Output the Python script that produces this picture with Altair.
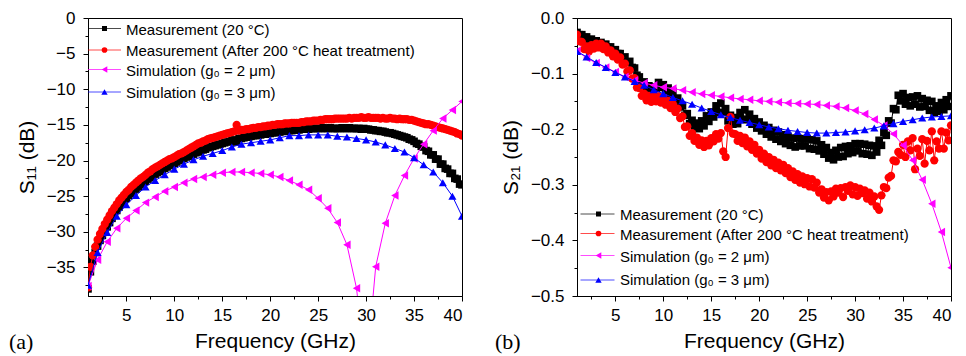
import altair as alt
import pandas as pd

# ---------------- data ----------------
FREQ_MEAS = [round(1.0 + 0.25 * i, 2) for i in range(157)]   # 1.00 ... 40.00 GHz
FREQ_SIM = [float(f) for f in range(1, 41)]                    # 1 ... 40 GHz

# (a) S11 (dB)
S11_MEAS_20C = [
    -38.0, -35.6, -34.1, -32.9, -32.0, -31.2, -30.5, -29.9,
    -29.3, -28.7, -28.1, -27.5, -27.0, -26.5, -26.1, -25.7,
    -25.3, -24.9, -24.6, -24.3, -24.0, -23.7, -23.4, -23.2,
    -22.9, -22.6, -22.4, -22.1, -21.9, -21.7, -21.5, -21.3,
    -21.1, -20.9, -20.7, -20.6, -20.4, -20.2, -20.0, -19.9,
    -19.7, -19.5, -19.4, -19.2, -19.1, -18.9, -18.8, -18.6,
    -18.5, -18.4, -18.2, -18.1, -18.0, -17.9, -17.8, -17.7,
    -17.6, -17.5, -17.4, -17.3, -17.2, -17.1, -17.4, -16.9,
    -16.9, -16.8, -16.7, -16.7, -16.6, -16.5, -16.5, -16.4,
    -16.4, -16.3, -16.3, -16.2, -16.2, -16.1, -16.1, -16.0,
    -16.0, -15.9, -15.9, -15.8, -15.8, -15.8, -15.7, -15.7,
    -15.7, -15.6, -15.6, -15.6, -15.6, -15.5, -15.5, -15.5,
    -15.5, -15.5, -15.4, -15.5, -15.5, -15.4, -15.5, -15.5,
    -15.5, -15.5, -15.4, -15.5, -15.5, -15.4, -15.5, -15.5,
    -15.5, -15.5, -15.6, -15.5, -15.6, -15.6, -15.7, -15.7,
    -15.8, -15.8, -15.9, -15.9, -16.0, -16.1, -16.1, -16.2,
    -16.3, -16.4, -16.5, -16.6, -16.7, -16.8, -17.0, -17.1,
    -17.3, -17.6, -17.7, -18.0, -18.1, -18.6, -18.7, -19.2,
    -19.2, -19.8, -19.8, -20.5, -20.5, -21.1, -21.2, -21.8,
    -21.8, -22.5, -22.6, -23.3, -23.4,
]
S11_MEAS_200C = [
    -37.8, -34.9, -33.3, -32.1, -31.1, -30.3, -29.6, -28.9,
    -28.3, -27.7, -27.1, -26.6, -26.1, -25.6, -25.2, -24.8,
    -24.4, -24.1, -23.7, -23.4, -23.1, -22.8, -22.5, -22.3,
    -22.0, -21.7, -21.5, -21.2, -21.0, -20.8, -20.6, -20.4,
    -20.2, -20.0, -19.8, -19.7, -19.5, -19.3, -19.1, -19.0,
    -18.8, -18.6, -18.4, -18.2, -18.0, -17.8, -17.6, -17.5,
    -17.3, -17.2, -17.0, -16.9, -16.8, -16.7, -16.6, -16.5,
    -16.4, -16.3, -16.2, -16.1, -16.0, -15.9, -15.0, -15.8,
    -15.7, -15.7, -15.6, -15.6, -15.5, -15.4, -15.4, -15.3,
    -15.3, -15.2, -15.2, -15.1, -15.1, -15.0, -15.0, -14.9,
    -14.9, -14.9, -14.8, -14.8, -14.8, -14.7, -14.7, -14.7,
    -14.7, -14.6, -14.6, -14.5, -14.5, -14.5, -14.4, -14.4,
    -14.4, -14.3, -14.3, -14.2, -14.2, -14.2, -14.2, -14.1,
    -14.1, -14.1, -14.1, -14.1, -14.1, -14.0, -14.1, -14.0,
    -14.0, -14.0, -13.9, -14.0, -14.0, -13.9, -14.0, -14.0,
    -14.0, -14.0, -14.1, -14.0, -14.1, -14.1, -14.0, -14.1,
    -14.1, -14.2, -14.1, -14.2, -14.2, -14.2, -14.3, -14.3,
    -14.4, -14.5, -14.6, -14.7, -14.8, -14.9, -14.9, -15.0,
    -15.1, -15.2, -15.3, -15.4, -15.5, -15.6, -15.7, -15.8,
    -15.9, -16.0, -16.2, -16.3, -16.5,
]
S11_SIM_G2 = [
    -37.6, -33.9, -31.4, -29.5, -28.1, -27.0, -25.9, -25.1, -24.3, -23.7,
    -23.1, -22.6, -22.3, -22.0, -21.7, -21.6, -21.6, -21.7, -21.8, -22.0,
    -22.3, -22.8, -23.4, -24.1, -25.3, -26.7, -28.7, -31.8, -37.9, -50.0,
    -34.9, -28.8, -24.9, -22.1, -19.7, -17.7, -15.8, -14.1, -12.9, -11.7,
]
S11_SIM_G3 = [
    -37.5, -32.9, -30.1, -27.8, -26.2, -24.9, -23.7, -22.8, -22.0, -21.2,
    -20.5, -19.9, -19.4, -19.0, -18.6, -18.1, -17.7, -17.5, -17.3, -17.1,
    -16.8, -16.5, -16.5, -16.4, -16.4, -16.4, -16.6, -16.7, -16.9, -17.1,
    -17.4, -17.8, -18.3, -18.8, -19.6, -20.6, -21.6, -23.1, -25.0, -27.8,
]

# (b) S21 (dB)
S21_MEAS_20C = [
    -0.026, -0.030, -0.030, -0.035, -0.034, -0.039, -0.038, -0.042,
    -0.041, -0.045, -0.044, -0.049, -0.047, -0.053, -0.052, -0.058,
    -0.057, -0.064, -0.064, -0.072, -0.070, -0.079, -0.078, -0.089,
    -0.090, -0.103, -0.106, -0.116, -0.115, -0.126, -0.122, -0.131,
    -0.124, -0.127, -0.116, -0.125, -0.120, -0.131, -0.126, -0.138,
    -0.132, -0.147, -0.144, -0.160, -0.158, -0.175, -0.172, -0.190,
    -0.184, -0.198, -0.189, -0.199, -0.185, -0.194, -0.176, -0.186,
    -0.169, -0.178, -0.158, -0.170, -0.153, -0.170, -0.163, -0.185,
    -0.175, -0.191, -0.179, -0.190, -0.170, -0.182, -0.165, -0.183,
    -0.173, -0.191, -0.181, -0.198, -0.187, -0.203, -0.193, -0.209,
    -0.197, -0.214, -0.202, -0.218, -0.205, -0.222, -0.210, -0.226,
    -0.213, -0.229, -0.216, -0.232, -0.216, -0.230, -0.217, -0.230,
    -0.217, -0.235, -0.219, -0.236, -0.221, -0.239, -0.228, -0.245,
    -0.233, -0.252, -0.242, -0.255, -0.238, -0.250, -0.233, -0.249,
    -0.231, -0.244, -0.230, -0.242, -0.226, -0.239, -0.226, -0.244,
    -0.227, -0.245, -0.229, -0.247, -0.230, -0.241, -0.220, -0.229,
    -0.206, -0.211, -0.185, -0.189, -0.163, -0.165, -0.139, -0.149,
    -0.136, -0.155, -0.143, -0.158, -0.142, -0.155, -0.140, -0.160,
    -0.145, -0.159, -0.148, -0.166, -0.150, -0.170, -0.158, -0.168,
    -0.152, -0.165, -0.147, -0.159, -0.140,
]
S21_MEAS_200C = [
    -0.030, -0.042, -0.043, -0.056, -0.051, -0.060, -0.049, -0.055,
    -0.046, -0.053, -0.046, -0.056, -0.051, -0.062, -0.058, -0.069,
    -0.064, -0.075, -0.071, -0.084, -0.082, -0.096, -0.094, -0.109,
    -0.108, -0.125, -0.126, -0.140, -0.136, -0.148, -0.140, -0.151,
    -0.141, -0.150, -0.141, -0.152, -0.143, -0.156, -0.149, -0.162,
    -0.155, -0.169, -0.163, -0.180, -0.177, -0.196, -0.195, -0.212,
    -0.207, -0.221, -0.215, -0.228, -0.220, -0.232, -0.221, -0.229,
    -0.216, -0.222, -0.209, -0.217, -0.207, -0.240, -0.250, -0.198,
    -0.178, -0.208, -0.209, -0.221, -0.212, -0.225, -0.215, -0.231,
    -0.222, -0.237, -0.228, -0.244, -0.237, -0.253, -0.244, -0.259,
    -0.250, -0.265, -0.255, -0.270, -0.260, -0.274, -0.264, -0.279,
    -0.270, -0.286, -0.276, -0.291, -0.281, -0.296, -0.285, -0.299,
    -0.288, -0.303, -0.290, -0.305, -0.296, -0.314, -0.308, -0.323,
    -0.313, -0.328, -0.312, -0.321, -0.307, -0.314, -0.306, -0.322,
    -0.304, -0.311, -0.301, -0.317, -0.304, -0.320, -0.307, -0.315,
    -0.310, -0.325, -0.314, -0.330, -0.321, -0.339, -0.345, -0.319,
    -0.304, -0.306, -0.287, -0.284, -0.256, -0.258, -0.241, -0.246,
    -0.228, -0.250, -0.222, -0.238, -0.216, -0.272, -0.235, -0.248,
    -0.218, -0.262, -0.221, -0.238, -0.204, -0.256, -0.222, -0.235,
    -0.204, -0.235, -0.206, -0.220, -0.193,
]
S21_SIM_G2 = [
    -0.059, -0.072, -0.081, -0.089, -0.097, -0.106, -0.112, -0.117, -0.121, -0.1245,
    -0.127, -0.130, -0.1335, -0.1365, -0.139, -0.141, -0.1435, -0.1455, -0.147, -0.149,
    -0.150, -0.1515, -0.153, -0.154, -0.1545, -0.1555, -0.1575, -0.159, -0.162, -0.1665,
    -0.1725, -0.1825, -0.1935, -0.2085, -0.229, -0.256, -0.291, -0.334, -0.385, -0.449,
]
S21_SIM_G3 = [
    -0.060, -0.070, -0.080, -0.089, -0.098, -0.106, -0.114, -0.121, -0.129, -0.136,
    -0.143, -0.149, -0.155, -0.162, -0.168, -0.174, -0.179, -0.184, -0.188, -0.192,
    -0.196, -0.199, -0.202, -0.204, -0.206, -0.207, -0.207, -0.206, -0.205, -0.203,
    -0.201, -0.198, -0.194, -0.190, -0.186, -0.183, -0.180, -0.178, -0.177, -0.176,
]

LABELS = [
    "Measurement (20 \u00b0C)",
    "Measurement (After 200 \u00b0C heat treatment)",
    "Simulation (g\u2080 = 2 \u03bcm)",
    "Simulation (g\u2080 = 3 \u03bcm)",
]
COLORS = ["#000000", "#ff0000", "#ff00ff", "#0000ff"]
SHAPES = ["square", "circle", "triangle-left", "triangle-up"]
SIZES = [58, 68, 72, 66]
LEG_SIZES = [25, 32, 42, 40]

FONT = "Liberation Sans"
W, H = 374, 278

X_TICKS = [2.5 * i for i in range(1, 17)]


def make_panel(series, ydomain, yticks, ytest, yfmt, ytitle, leg, tag):
    x_axis = alt.Axis(
        values=X_TICKS,
        format=".0f",
        labelExpr="datum.value % 5 === 0 ? datum.label : ''",
        tickSize={"condition": {"test": "datum.value % 5 === 0", "value": 5}, "value": 3},
        title="Frequency (GHz)",
        labelPadding=6,
        titlePadding=7,
    )
    y_axis = alt.Axis(
        values=yticks,
        format=yfmt,
        labelExpr=f"({ytest}) ? datum.label : ''",
        tickSize={"condition": {"test": ytest, "value": 5}, "value": 3},
        title=ytitle,
        labelPadding=8,
        titlePadding=9,
    )
    x = alt.X("f:Q", scale=alt.Scale(domain=[1, 40], nice=False, zero=False), axis=x_axis)
    y = alt.Y("v:Q", scale=alt.Scale(domain=ydomain, nice=False, zero=False), axis=y_axis)

    layers = []
    for (freq, vals), color, shape, size in zip(series, COLORS, SHAPES, SIZES):
        base = alt.Chart(pd.DataFrame({"f": freq, "v": vals}))
        layers.append(base.mark_line(color=color, strokeWidth=1, clip=True).encode(x=x, y=y))
        layers.append(
            base.mark_point(shape=shape, filled=True, color=color, size=size,
                            opacity=1, strokeWidth=0, clip=True).encode(x=x, y=y)
        )

    lx0, lx1, lxm, tx, rows_m, rows_t = leg
    for label, color, shape, lsize, ym, yt in zip(LABELS, COLORS, SHAPES, LEG_SIZES, rows_m, rows_t):
        c = alt.Chart(pd.DataFrame({"label": [label]}))
        layers.append(c.mark_rule(color=color, strokeWidth=1, opacity=0.7).encode(
            x=alt.value(lx0), x2=alt.value(lx1), y=alt.value(ym)))
        layers.append(c.mark_point(shape=shape, filled=True, color=color, size=lsize,
                                   opacity=1, strokeWidth=0).encode(
            x=alt.value(lxm), y=alt.value(ym)))
        layers.append(c.mark_text(align="left", baseline="middle", font=FONT, fontSize=15,
                                  color="black").encode(
            x=alt.value(tx), y=alt.value(yt), text="label:N"))

    t = alt.Chart(pd.DataFrame({"tag": [tag[0]]})).mark_text(
        align="left", baseline="alphabetic", font="Liberation Serif", fontSize=22, color="black"
    ).encode(x=alt.value(tag[1]), y=alt.value(tag[2]), text="tag:N")
    layers.append(t)

    return alt.layer(*layers).properties(width=W, height=H)


left = make_panel(
    [(FREQ_MEAS, S11_MEAS_20C), (FREQ_MEAS, S11_MEAS_200C),
     (FREQ_SIM, S11_SIM_G2), (FREQ_SIM, S11_SIM_G3)],
    [-39, 0],
    [-37.5 + 2.5 * i for i in range(16)],
    "datum.value % 5 === 0",
    ".0f",
    "S\u2081\u2081 (dB)",
    (0, 33, 16.5, 38, [10.5, 32.0, 51.5, 74.0], [12.0, 33.0, 52.5, 75.0]),
    ("(a)", -79, H + 53),
)

right = make_panel(
    [(FREQ_MEAS, S21_MEAS_20C), (FREQ_MEAS, S21_MEAS_200C),
     (FREQ_SIM, S21_SIM_G2), (FREQ_SIM, S21_SIM_G3)],
    [-0.5, 0],
    [round(-0.5 + 0.05 * i, 2) for i in range(11)],
    "abs(round(datum.value * 10) - datum.value * 10) < 0.001",
    ".1f",
    "S\u2082\u2081 (dB)",
    (3.5, 37.5, 21.5, 43, [196.0, 215.5, 237.5, 262.0], [196.5, 216.5, 238.5, 261.5]),
    ("(b)", -82, H + 53),
)

chart = alt.hconcat(left, right, spacing=31).properties(padding=0).configure_axis(
    labelFont=FONT, labelFontSize=17, labelColor="black",
    titleFont=FONT, titleFontSize=21, titleFontWeight="normal", titleColor="black",
    domainColor="black", domainWidth=1, tickColor="black", tickWidth=1, grid=False,
).configure_view(stroke="black", strokeWidth=1)

chart.save("out.html", embed_options={"renderer": "svg", "actions": False})
